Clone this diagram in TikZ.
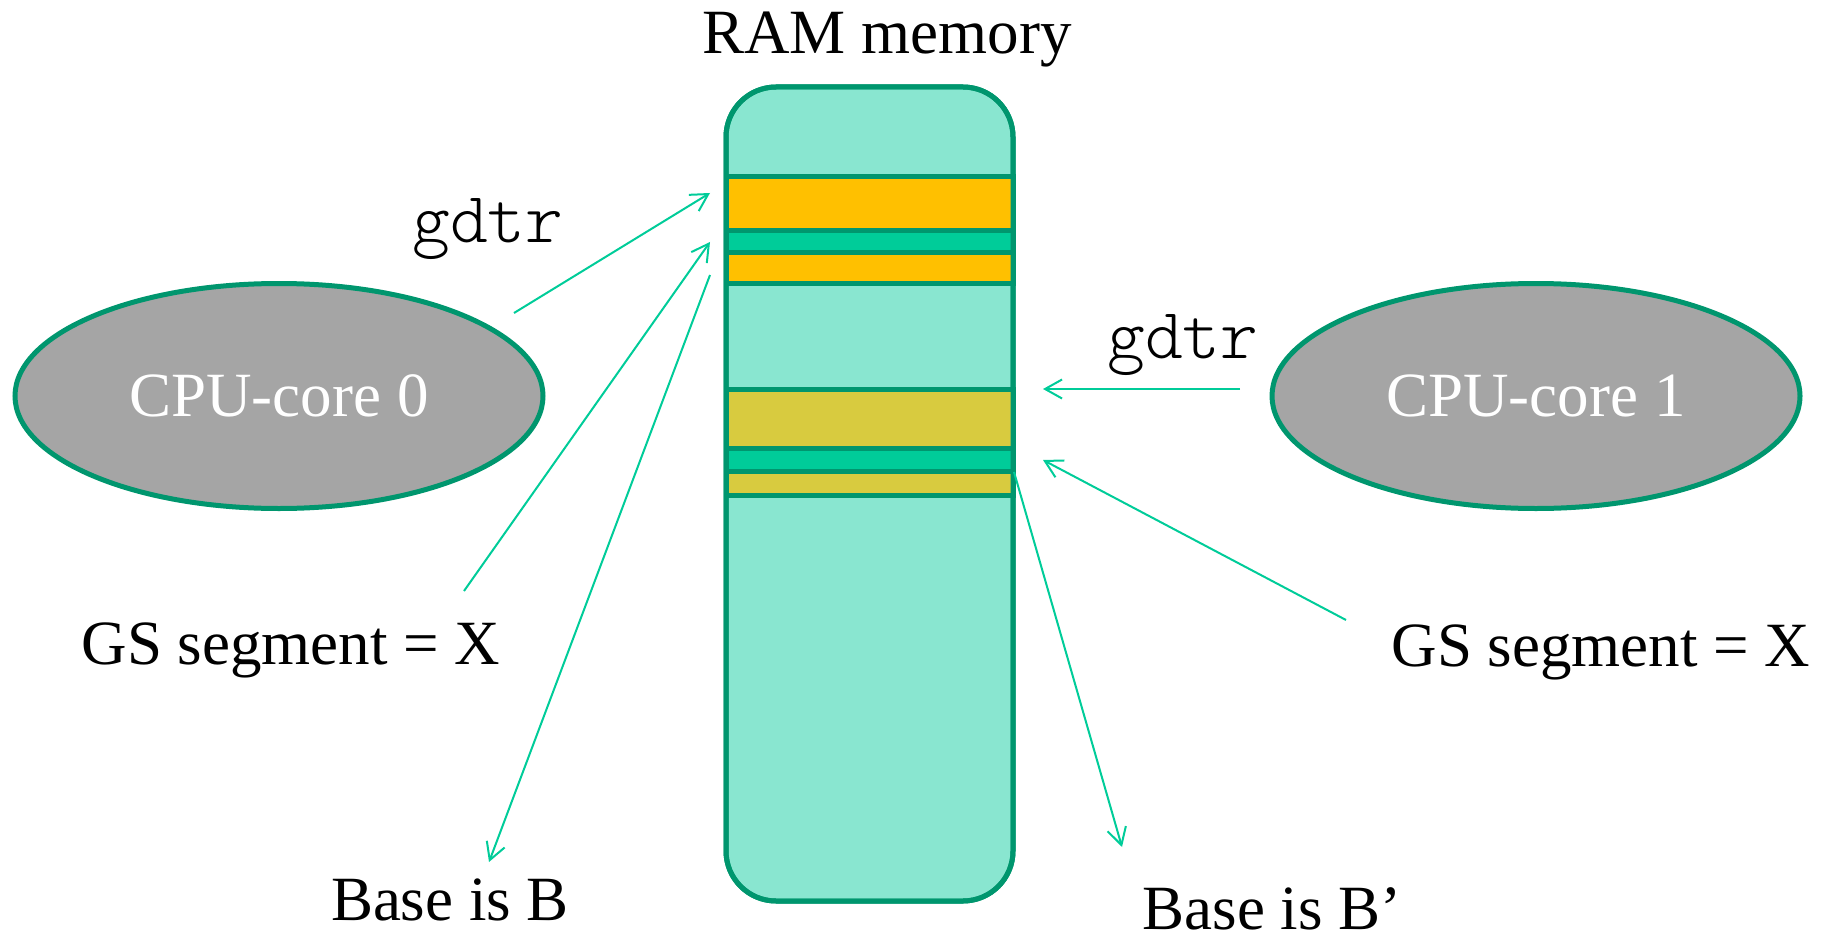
\documentclass[tikz,border=0pt]{standalone}
\usepackage{fontspec}
\setmainfont{Liberation Serif}
\newfontfamily\lmlightmono{Latin Modern Mono Light}
\usetikzlibrary{arrows.meta,shapes.geometric}
\definecolor{ramfill}{HTML}{89E6D0}
\definecolor{ramedge}{HTML}{00966E}
\definecolor{bandorange}{HTML}{FFC000}
\definecolor{bandgreen}{HTML}{00CC99}
\definecolor{bandyellow}{HTML}{D8CB3F}
\definecolor{cpugrey}{HTML}{A5A5A5}
\definecolor{arrowc}{HTML}{00CC99}
\tikzset{
  lbl/.style={font=\fontsize{63}{70}\selectfont, inner sep=0pt, anchor=base},
  mono/.style={font=\fontsize{72}{80}\selectfont\lmlightmono, inner sep=0pt, anchor=base west},
  cpu/.style={ellipse, draw=ramedge, line width=5pt, fill=cpugrey, text=white,
    font=\fontsize{63}{70}\selectfont, minimum width=528pt, minimum height=225pt, inner sep=0pt},
  band/.style={draw=ramedge, line width=5pt},
  ptr/.style={draw=arrowc, line width=2pt, -{Straight Barb[length=17pt,width=19pt]}},
}
\begin{document}
\begin{tikzpicture}[x=1pt,y=-1pt]
\useasboundingbox (0,0) rectangle (1827,941);
% RAM box
\draw[fill=ramfill, draw=ramedge, line width=5pt, rounded corners=50pt] (726,87) rectangle (1013,901);
\draw[band, fill=bandorange] (726,177) rectangle (1013,231);
\draw[band, fill=bandgreen]  (726,231) rectangle (1013,253);
\draw[band, fill=bandorange] (726,253) rectangle (1013,283);
\draw[band, fill=bandyellow] (726,389) rectangle (1013,448);
\draw[band, fill=bandgreen]  (726,448) rectangle (1013,471);
\draw[band, fill=bandyellow] (726,471) rectangle (1013,495);
\draw[draw=ramedge, line width=5pt, rounded corners=50pt] (726,87) rectangle (1013,901);
% labels
\node[lbl] (ramlbl) at (887,54) {RAM memory};
\node[cpu] (c0) at (279,396) {CPU-core 0};
\node[cpu] (c1) at (1536,396) {CPU-core 1};
\node[mono] (g0) at (412,243) {gdtr};
\node[mono] (g1) at (1107,358) {gdtr};
\node[lbl] (gs0) at (291,664) {GS segment = X};
\node[lbl] (gs1) at (1601,666) {GS segment = X};
\node[lbl] (b0) at (450,920) {Base is B};
\node[lbl] (b1) at (1272,929) {Base is B’};
% connector ends
\coordinate (s1) at (514,313);
\coordinate (t1) at (710,193);
\coordinate (s2) at (464,591);
\coordinate (t2) at (710,242);
\coordinate (s3) at (710,275);
\coordinate (t3) at (489,862);
\coordinate (s4) at (1240,389);
\coordinate (t4) at (1043,389);
\coordinate (s5) at (1346,620);
\coordinate (t5) at (1043,460);
\coordinate (s6) at (1014,472);
\coordinate (t6) at (1122,847);
\draw[ptr] (s1) -- (t1);
\draw[ptr] (s2) -- (t2);
\draw[ptr] (s3) -- (t3);
\draw[ptr] (s4) -- (t4);
\draw[ptr] (s5) -- (t5);
\draw[ptr] (s6) -- (t6);
\end{tikzpicture}
\end{document}
